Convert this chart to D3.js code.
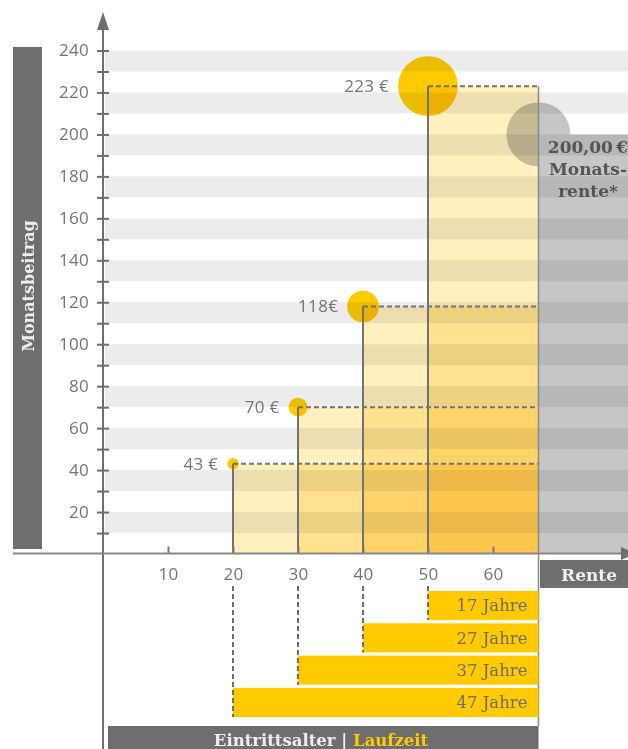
<!DOCTYPE html>
<html>
<head>
<meta charset="utf-8">
<script src="https://cdn.jsdelivr.net/npm/d3@7"></script>
<style>
  body { margin: 0; background: #fff; }
  svg { display: block; }
  .num { font-family: 'Open Sans', sans-serif; font-size: 17px; fill: #747474; letter-spacing: 0.3px; }
  .slab { font-family: 'DejaVu Serif', serif; }
</style>
</head>
<body>
<div id="chart"></div>
<script>
// entry age, monthly contribution and duration per case
const entryAges = [20, 30, 40, 50]
const monthlyRates = [43, 70, 118, 223]
const rateLabels = ['43 €', '70 €', '118€', '223 €']
const durations = [47, 37, 27, 17]
const retirementAge = 67
const pension = 200
const pensionLines = ['200,00\u2009€', 'Monats-', 'rente*']
const xTicks = [10, 20, 30, 40, 50, 60]
const yTicks = [20, 40, 60, 80, 100, 120, 140, 160, 180, 200, 220, 240]

const W = 628
const H = 749
const grey = '#6e6e6e'
const yellow = '#ffcb00'

const svg = d3
  .select('#chart')
  .append('svg')
  .attr('width', W)
  .attr('height', H)

const x = d3.scaleLinear().domain([0, retirementAge]).range([103, 538.5])
const y = d3.scaleLinear().domain([0, 240]).range([554, 50.5])

const cases = entryAges.map((age, i) => ({
  age: age,
  rate: monthlyRates[i],
  label: rateLabels[i],
  years: durations[i]
}))

// background stripes
const stripes = d3.range(20, 241, 20)
svg
  .append('g')
  .selectAll('rect')
  .data(stripes)
  .enter()
  .append('rect')
  .attr('x', 105)
  .attr('width', W - 105)
  .attr('y', d => y(d))
  .attr('height', d => y(d - 10) - y(d))
  .attr('fill', '#ececec')

// stacked contribution areas
svg
  .append('g')
  .selectAll('rect')
  .data(cases)
  .enter()
  .append('rect')
  .attr('x', d => x(d.age))
  .attr('width', d => x(retirementAge) - x(d.age))
  .attr('y', d => y(d.rate))
  .attr('height', d => y(0) - y(d.rate))
  .attr('fill', '#fff0be')
  .style('mix-blend-mode', 'multiply')

// pension block + bubble
const pg = svg.append('g').style('mix-blend-mode', 'multiply')
pg.append('circle')
  .attr('cx', x(retirementAge))
  .attr('cy', y(pension))
  .attr('r', 32)
  .attr('fill', '#c6c6c6')
pg.append('rect')
  .attr('x', x(retirementAge))
  .attr('width', W - x(retirementAge))
  .attr('y', y(pension))
  .attr('height', y(0) - y(pension))
  .attr('fill', '#c6c6c6')

// bubbles
svg
  .append('g')
  .selectAll('circle')
  .data(cases)
  .enter()
  .append('circle')
  .attr('cx', d => x(d.age))
  .attr('cy', d => y(d.rate))
  .attr('r', d => d.rate * 0.134)
  .attr('fill', yellow)
  .style('mix-blend-mode', 'multiply')

// value lines
const lines = svg.append('g').attr('stroke', '#727272').attr('stroke-width', 2)
lines
  .selectAll('.v')
  .data(cases)
  .enter()
  .append('line')
  .attr('x1', d => x(d.age))
  .attr('x2', d => x(d.age))
  .attr('y1', d => y(d.rate))
  .attr('y2', y(0))
lines
  .selectAll('.h')
  .data(cases)
  .enter()
  .append('line')
  .attr('x1', d => x(d.age))
  .attr('x2', x(retirementAge))
  .attr('y1', d => y(d.rate))
  .attr('y2', d => y(d.rate))
  .attr('stroke-dasharray', '5,3')
lines
  .append('line')
  .attr('x1', x(retirementAge))
  .attr('x2', x(retirementAge))
  .attr('y1', y(d3.max(monthlyRates)))
  .attr('y2', 726)
  .attr('stroke', '#8a8a8a')
  .attr('stroke-width', 1.5)

// value labels
svg
  .append('g')
  .selectAll('text')
  .data(cases)
  .enter()
  .append('text')
  .attr('class', 'num')
  .attr('x', d => x(d.age) - d.rate * 0.134 - 9)
  .attr('y', d => y(d.rate))
  .attr('dy', '0.35em')
  .attr('text-anchor', 'end')
  .text(d => d.label)

// pension text
svg
  .append('g')
  .selectAll('text')
  .data(pensionLines)
  .enter()
  .append('text')
  .attr('class', 'slab')
  .attr('x', 588)
  .attr('y', (d, i) => 153 + i * 22)
  .attr('text-anchor', 'middle')
  .attr('font-size', 17)
  .attr('font-weight', 'bold')
  .attr('fill', '#555')
  .text(d => d)

// y axis
const yAxis = d3
  .axisLeft(y)
  .tickValues(d3.range(10, 241, 10))
  .tickSize(6)
  .tickFormat(d => (yTicks.includes(d) ? d : ''))

const ya = svg
  .append('g')
  .attr('transform', 'translate(103,0)')
  .call(yAxis)
ya.select('.domain').remove()
ya.selectAll('.tick line')
  .attr('x1', -6)
  .attr('x2', 6)
  .attr('stroke', grey)
  .attr('stroke-width', 2)
ya.selectAll('.tick text')
  .attr('class', 'num')
  .attr('x', -14)
  .attr('font-size', null)
  .attr('font-family', null)
  .attr('fill', null)

svg.append('line')
  .attr('x1', 103).attr('x2', 103)
  .attr('y1', 26).attr('y2', H)
  .attr('stroke', grey).attr('stroke-width', 2)
svg.append('path')
  .attr('d', 'M103,12 L109,30 L97,30 Z')
  .attr('fill', grey)

// x axis
const xAxis = d3.axisBottom(x).tickValues(xTicks).tickSize(0).tickPadding(14)
const xa = svg
  .append('g')
  .attr('transform', 'translate(0,' + 553.5 + ')')
  .call(xAxis)
xa.select('.domain').remove()
xa.selectAll('.tick text')
  .attr('class', 'num')
  .attr('font-size', null)
  .attr('font-family', null)
  .attr('fill', null)
xa.selectAll('.tick')
  .append('line')
  .attr('y1', 0)
  .attr('y2', -7)
  .attr('stroke', '#7a7a7a')
  .attr('stroke-width', 2)

svg.append('line')
  .attr('x1', 13).attr('x2', 624)
  .attr('y1', 553.5).attr('y2', 553.5)
  .attr('stroke', '#888').attr('stroke-width', 2)
svg.append('path')
  .attr('d', 'M621,547 L636,553.5 L621,560 Z')
  .attr('fill', grey)

// Monatsbeitrag label
svg.append('rect')
  .attr('x', 13).attr('y', 47)
  .attr('width', 29).attr('height', 502)
  .attr('fill', grey)
svg.append('text')
  .attr('class', 'slab')
  .attr('transform', 'translate(33.5,286) rotate(-90)')
  .attr('text-anchor', 'middle')
  .attr('font-size', 16)
  .attr('font-weight', 'bold')
  .attr('fill', '#eee')
  .text('Monatsbeitrag')

// Rente label
svg.append('rect')
  .attr('x', 540).attr('y', 560)
  .attr('width', W - 540).attr('height', 28)
  .attr('fill', grey)
svg.append('text')
  .attr('class', 'slab')
  .attr('x', 589).attr('y', 581)
  .attr('text-anchor', 'middle')
  .attr('font-size', 17)
  .attr('font-weight', 'bold')
  .attr('fill', '#eee')
  .text('Rente')

// duration bars
const band = d3
  .scaleBand()
  .domain(entryAges.slice().reverse())
  .range([591, 717])
  .paddingInner(0.1)

const bars = svg.append('g')
bars
  .selectAll('rect')
  .data(cases)
  .enter()
  .append('rect')
  .attr('x', d => x(d.age))
  .attr('width', d => x(retirementAge) - x(d.age))
  .attr('y', d => band(d.age))
  .attr('height', band.bandwidth())
  .attr('fill', yellow)
bars
  .selectAll('line')
  .data(cases)
  .enter()
  .append('line')
  .attr('x1', d => x(d.age))
  .attr('x2', d => x(d.age))
  .attr('y1', 586)
  .attr('y2', d => band(d.age) + band.bandwidth())
  .attr('stroke', grey)
  .attr('stroke-width', 2)
  .attr('stroke-dasharray', '5,3')
bars
  .selectAll('text')
  .data(cases)
  .enter()
  .append('text')
  .attr('class', 'slab')
  .attr('x', x(retirementAge) - 11)
  .attr('y', d => band(d.age) + band.bandwidth() / 2)
  .attr('dy', '0.35em')
  .attr('text-anchor', 'end')
  .attr('font-size', 16.5)
  .attr('fill', grey)
  .text(d => d.years + ' Jahre')

// bottom label
svg.append('rect')
  .attr('x', 108).attr('y', 726)
  .attr('width', x(retirementAge) - 108).attr('height', H - 726)
  .attr('fill', grey)
const bt = svg.append('text')
  .attr('class', 'slab')
  .attr('x', 321).attr('y', 746)
  .attr('text-anchor', 'middle')
  .attr('font-size', 16.5)
  .attr('font-weight', 'bold')
bt.append('tspan').attr('fill', '#eee').text('Eintrittsalter | ')
bt.append('tspan').attr('fill', yellow).text('Laufzeit')
</script>
</body>
</html>
